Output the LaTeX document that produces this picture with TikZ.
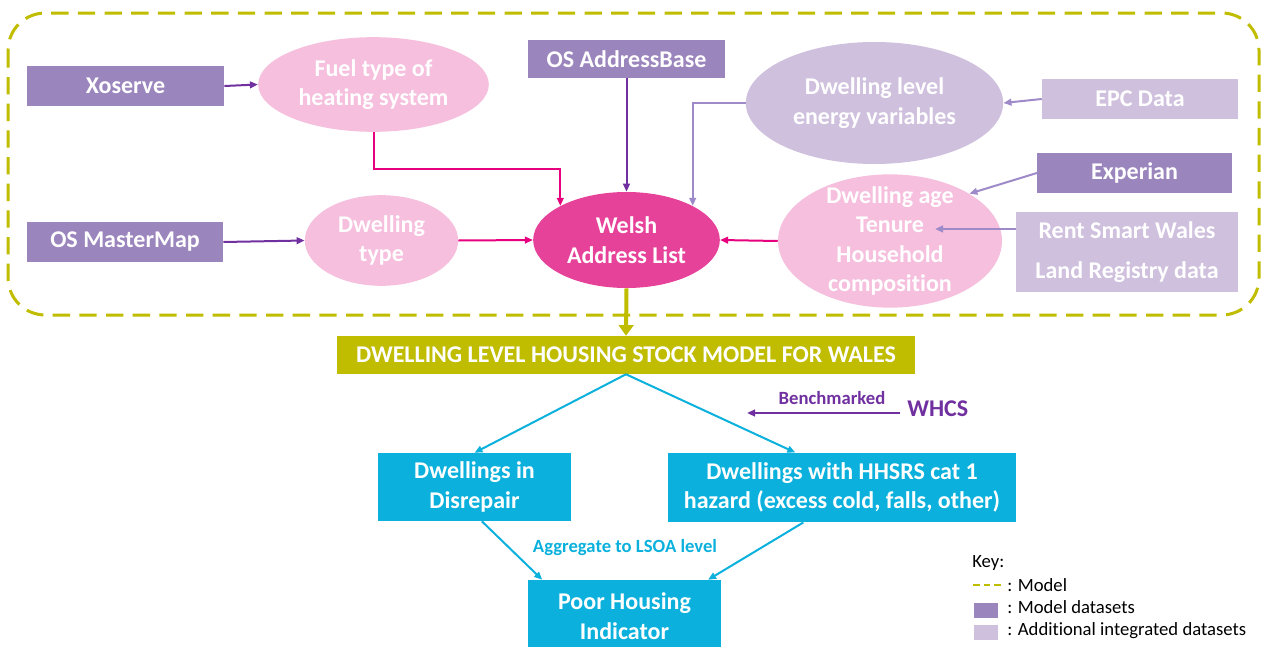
\documentclass[tikz,border=0pt]{standalone}
\usepackage{fontspec}
\setmainfont{Carlito}[Ligatures=NoCommon]
\usetikzlibrary{shapes.geometric,arrows.meta}

\definecolor{modelpurple}{RGB}{155,133,189}
\definecolor{addlilac}{RGB}{207,192,222}
\definecolor{softpink}{RGB}{245,191,221}
\definecolor{hotpink}{RGB}{230,66,154}
\definecolor{linkpink}{RGB}{230,0,126}
\definecolor{deeppurple}{RGB}{112,48,160}
\definecolor{modelolive}{RGB}{192,188,0}
\definecolor{skyblue}{RGB}{11,177,220}
\definecolor{linklilac}{RGB}{158,138,200}

\tikzset{
    bigtext/.style={font=\bfseries\fontsize{18}{22}\selectfont, text=white, align=center},
    modelset/.style={bigtext, rectangle, fill=modelpurple, inner sep=0pt, minimum height=30pt},
    addset/.style={bigtext, rectangle, fill=addlilac, inner sep=0pt, minimum height=30pt},
    pinkell/.style={bigtext, ellipse, fill=softpink, inner sep=0pt},
    lilacell/.style={bigtext, ellipse, fill=addlilac, inner sep=0pt},
    welshell/.style={bigtext, ellipse, fill=hotpink, inner sep=0pt},
    outbox/.style={bigtext, rectangle, fill=skyblue, inner sep=0pt},
    keytext/.style={font=\fontsize{14}{17}\selectfont, anchor=base west, inner sep=0pt},
    link/.style={-{Triangle[length=6pt,width=5pt]}, line width=1.5pt},
    darklink/.style={link, deeppurple},
    pinklink/.style={link, linkpink},
    lilaclink/.style={link, linklilac},
    bluelink/.style={link, skyblue},
    modelframe/.style={modelolive, line width=2.25pt, dash pattern=on 13pt off 7pt, rounded corners=28pt}
}

\begin{document}
\begin{tikzpicture}[x=0.75pt, y=-0.75pt]
    \useasboundingbox (0,0) rectangle (1263,646);

    % model frame
    \draw[modelframe] (8,13) rectangle (1259,315);

    % datasets
    \node[modelset, minimum width=148pt] (xoserve) at (125.5,86) {Xoserve};
    \node[modelset, minimum width=147pt] (mastermap) at (125,242) {OS MasterMap};
    \node[modelset, minimum width=148pt, minimum height=28.5pt] (addrbase) at (626.5,59) {OS AddressBase};
    \node[addset, minimum width=147pt] (epc) at (1140,99) {EPC Data};
    \node[modelset, minimum width=146pt] (experian) at (1134.5,173) {Experian};
    \node[addset, minimum width=166.5pt, minimum height=60pt] (rentsmart) at (1127,252) {Rent Smart Wales\\[8pt]Land Registry data};

    % variables
    \node[pinkell, minimum width=173pt, minimum height=71pt] (fuel) at (373.5,84.5) {Fuel type of\\heating system};
    \node[pinkell, minimum width=115pt, minimum height=68pt] (dtype) at (381.5,240.5) {Dwelling\\type};
    \node[welshell, minimum width=140pt, minimum height=72pt] (welsh) at (626.5,240) {Welsh\\Address List};
    \node[lilacell, minimum width=193pt, minimum height=91.5pt] (energy) at (874.5,103) {Dwelling level\\energy variables};
    \node[pinkell, inner ysep=-12pt, minimum width=168pt, minimum height=100pt] (age) at (890,241) {Dwelling age\\Tenure\\Household\\composition};
    \coordinate (tenure) at (935,229);

    \draw[darklink] (xoserve.east) -- (fuel.west);
    \draw[darklink] (mastermap.east) -- (dtype.west);
    \draw[darklink] (addrbase.south) -- (welsh.north);
    \draw[pinklink] (fuel.south) -- ++(0,37) -| (welsh.north west);
    \draw[pinklink] (dtype.east) -- (welsh.west);
    \draw[pinklink] (age.west) -- (welsh.east);
    \draw[lilaclink] (energy.west) -| (welsh.north east);
    \draw[lilaclink] (epc.west) -- (energy.east);
    \draw[lilaclink] (experian.west) -- (age.north east);
    \draw[lilaclink] ([yshift=17.25pt]rentsmart.west) -- (tenure);

    % stock model and outputs
    \node[bigtext, fill=modelolive, inner sep=0pt, minimum width=433.5pt, minimum height=28.5pt] (model) at (626,355) {DWELLING LEVEL HOUSING STOCK MODEL FOR WALES};
    \draw[modelolive, line width=3pt, -{Triangle[length=8pt,width=11pt]}] (welsh.south) -- (model.north);

    \node[outbox, minimum width=145pt, minimum height=51pt] (disrepair) at (474.5,487) {Dwellings in\\Disrepair};
    \node[outbox, minimum width=261pt, minimum height=52pt] (hhsrs) at (842,487.5) {Dwellings with HHSRS cat 1\\hazard (excess cold, falls, other)};
    \node[outbox, minimum width=145pt, minimum height=54pt] (poor) at (624.5,616) {Poor Housing\\Indicator};

    \draw[bluelink] (model.south) -- (disrepair.north);
    \draw[bluelink] (model.south) -- ([xshift=-35pt]hhsrs.north);
    \draw[bluelink] ([xshift=5.5pt]disrepair.south) -- ([xshift=11pt]poor.north west);
    \draw[bluelink] ([xshift=-29pt]hhsrs.south) -- ([xshift=-10pt]poor.north east);
    \node[font=\bfseries\fontsize{14}{17}\selectfont, text=skyblue] (aggregate) at (625,548) {Aggregate to LSOA level};

    % benchmark
    \node[font=\bfseries\fontsize{18}{22}\selectfont, text=deeppurple, anchor=west, inner sep=0pt] (whcs) at (907,409) {WHCS};
    \coordinate (benchend) at (747,413);
    \draw[darklink] ([shift={(-7,4)}]whcs.west) -- (benchend);
    \node[font=\bfseries\fontsize{14}{17}\selectfont, text=deeppurple] (bench) at (832,398) {Benchmarked};

    % key
    \node[keytext] (keyhead) at (972,567) {Key:};
    \coordinate (keydash) at (973,585);
    \draw[modelolive, line width=1.2pt, dash pattern=on 5pt off 3pt] (keydash) -- ++(30,0);
    \node[keytext] (keymodel) at (1007,591) {: Model};
    \node[fill=modelpurple, inner sep=0pt, minimum width=18pt, minimum height=11.25pt] (keypurple) at (986,610.5) {};
    \node[keytext] (keyds) at (1007,613) {: Model datasets};
    \node[fill=addlilac, inner sep=0pt, minimum width=18pt, minimum height=11.25pt] (keylilac) at (986,632.5) {};
    \node[keytext] (keyadd) at (1007,635) {: Additional integrated datasets};

\end{tikzpicture}
\end{document}
